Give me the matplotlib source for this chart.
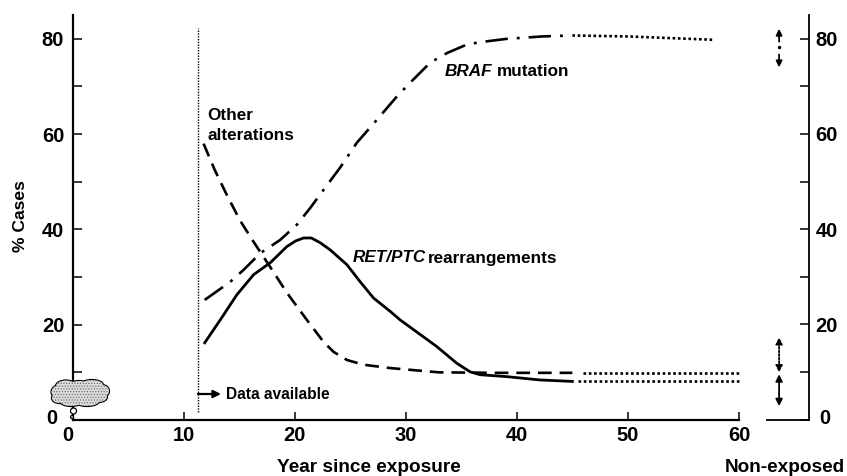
import matplotlib
matplotlib.use("Agg")
import matplotlib.pyplot as plt
from matplotlib.patches import Ellipse
from matplotlib.transforms import Affine2D, ScaledTranslation

plt.rcParams['font.family'] = ['Liberation Sans', 'DejaVu Sans']
plt.rcParams['font.weight'] = 'bold'
plt.rcParams['hatch.linewidth'] = 0.5

# values
other_x = [11.8, 12.8, 13.9, 15.1, 16.3, 17.8, 19.3, 21.1, 22.6, 23.5, 24.7, 26.2, 28.6, 33, 38, 45]
other_y = [58, 52.5, 47.2, 41.8, 37.4, 32.1, 26.7, 21, 16.4, 14.3, 12.6, 11.6, 10.9, 10, 9.9, 9.9]
ret_x = [11.9, 13.3, 14.8, 16.3, 17.8, 19.3, 20.1, 20.8, 21.5, 22.3, 23.2, 24.7, 25.9, 27.1, 28.6, 29.5,
         32.8, 34.6, 35.8, 36.7, 39.1, 42.1, 45]
ret_y = [16.2, 21, 26.3, 30.5, 33, 36.4, 37.6, 38.2, 38.2, 37.2, 35.7, 32.6, 29, 25.6, 22.8, 21,
         15.4, 11.9, 10.1, 9.5, 9.1, 8.4, 8.1]
braf_x = [11.9, 14.2, 15.4, 16.9, 18.7, 20.2, 21.4, 22.6, 24.1, 25.6, 27.4, 29.2, 30.4, 32.2,
          33.7, 35.5, 36.7, 39.1, 42.3, 44.8]
braf_y = [25.2, 29, 31.5, 35, 37.8, 41, 44.5, 48.3, 53, 58.2, 63, 67.9, 70.8, 75,
          77, 78.8, 79.3, 80, 80.5, 80.7]
other_ext_x = [46, 60]
other_ext_y = [9.9, 9.9]
ret_ext_x = [45.5, 60]
ret_ext_y = [8.2, 8.2]
braf_ext_x = [45, 50, 57.7]
braf_ext_y = [80.7, 80.5, 79.8]
data_start = 11.3
data_top = 82.3
x_ticks = [0, 10, 20, 30, 40, 50, 60]
y_major = [0, 20, 40, 60, 80]
y_minor = [10, 30, 50, 70]
# non-exposed ranges: (low, high)
braf_range = [(76.7, 74), (79.4, 82.1)]
other_range = (9.9, 17.3)
ret_range = (2.8, 9.5)

W, H = 847, 476
fig = plt.figure(figsize=(W / 100, H / 100), dpi=100)
px = Affine2D().scale(1, -1).translate(0, H)


def axes_at(left, right, top, bottom):
    return fig.add_axes([left / W, (H - bottom) / H, (right - left) / W, (bottom - top) / H])


ax = axes_at(72.5, 739, 15, 420)
ax.set_xlim(0, 60)
ax.set_ylim(0, 85)
ax.spines[['top', 'right']].set_visible(False)
ax.spines['left'].set_linewidth(1.6)
ax.spines['bottom'].set_linewidth(1.6)
ax.set_xticks(x_ticks)
ax.set_yticks(y_major)
ax.set_yticks(y_minor, minor=True)
ax.tick_params(axis='x', direction='in', length=5.5, width=1.1, labelsize=14.5, pad=4)
ax.tick_params(axis='y', which='both', direction='in', length=6.5, width=1.1, labelsize=14.5, pad=6)
ax.set_facecolor('none')

ax.plot(other_x, other_y, color='k', lw=1.9, ls=(0, (5.2, 3)))
ax.plot(ret_x, ret_y, color='k', lw=2.0)
ax.plot(braf_x, braf_y, color='k', lw=1.9, ls=(0, (8.5, 3.4, 1.1, 3.4)))
for ex, ey in [(other_ext_x, other_ext_y), (ret_ext_x, ret_ext_y), (braf_ext_x, braf_ext_y)]:
    ax.plot(ex, ey, color='k', lw=1.9, ls=(0, (1, 1)), clip_on=False)
ax.plot([data_start, data_start], [1.7, data_top], color='k', lw=1.0, ls=(0, (1, 1)))

# shifted zero labels
ax.get_xticklabels()[0].set_transform(ax.get_xticklabels()[0].get_transform()
                                      + ScaledTranslation(-4.5 / 100, 0, fig.dpi_scale_trans))
lab0 = ax.get_yticklabels()[0]
lab0.set_transform(lab0.get_transform() + ScaledTranslation(-7 / 100, 3 / 100, fig.dpi_scale_trans))

# right-hand axis for the non-exposed group
ax2 = axes_at(767, 808.7, 15, 419.5)
ax2.set_xlim(0, 1)
ax2.set_ylim(0, 85)
ax2.set_facecolor('none')
ax2.spines[['top', 'left']].set_visible(False)
ax2.spines['right'].set_linewidth(1.3)
ax2.spines['bottom'].set_linewidth(1.3)
ax2.set_xticks([])
ax2.yaxis.tick_right()
ax2.set_yticks(y_major)
ax2.set_yticks(y_minor, minor=True)
ax2.tick_params(axis='y', which='both', direction='in', length=6.5, width=1.1, labelsize=14.5, pad=5)
lab0 = ax2.get_yticklabels()[0]
lab0.set_transform(lab0.get_transform() + ScaledTranslation(4 / 100, 3 / 100, fig.dpi_scale_trans))

arrow_x = 0.29
for y0, y1 in braf_range:
    ax2.annotate('', xy=(arrow_x, y1), xytext=(arrow_x, y0),
                 arrowprops=dict(arrowstyle='-|>', color='k', lw=1.3, shrinkA=0, shrinkB=0,
                                 mutation_scale=9))
ax2.plot([arrow_x], [78.2], 'o', color='k', ms=1.5)
ax2.annotate('', xy=(arrow_x, other_range[1]), xytext=(arrow_x, other_range[0]),
             arrowprops=dict(arrowstyle='<|-|>', color='k', lw=1.3, ls=(0, (1, 1)),
                             shrinkA=0, shrinkB=0, mutation_scale=10))
ax2.annotate('', xy=(arrow_x, ret_range[1]), xytext=(arrow_x, ret_range[0]),
             arrowprops=dict(arrowstyle='<|-|>', color='k', lw=1.3, shrinkA=0, shrinkB=0,
                             mutation_scale=10))


# text, placed in picture pixels
def label(x, y, s, size=12.3, **kw):
    kw.setdefault('va', 'center')
    fig.text(x, y, s, transform=px, fontsize=size, fontweight='bold', **kw)


label(207, 115, 'Other')
label(207, 136, 'alterations')
label(445, 72, 'BRAF', style='italic')
label(497, 72, 'mutation')
label(353, 258, 'RET/PTC', style='italic')
label(428, 258, 'rearrangements')
label(226, 394.5, 'Data available', size=11.2)
label(277, 467, 'Year since exposure', size=13.7)
label(725, 467, 'Non-exposed', size=13.7)
label(20.5, 216, '% Cases', size=12.6, rotation=90, ha='center')

# data-available arrow
ax.annotate('', xy=(221, 394), xytext=(198, 394), xycoords=px, textcoords=px,
            arrowprops=dict(arrowstyle='-|>', color='k', lw=1.6, shrinkA=0, shrinkB=0, mutation_scale=11))

# cloud
lobes = [(59, 392, 15, 13), (66, 386, 20, 11), (79, 386, 20, 10), (92, 385, 22, 10), (102, 391, 14, 12),
         (99, 397, 16, 10), (87, 401, 24, 10), (71, 401, 22, 10), (59, 398, 14, 10), (80, 393, 42, 16)]
for lx, ly, lw_, lh in lobes:
    fig.add_artist(Ellipse((lx, ly), lw_, lh, transform=px, fc='k', ec='k', lw=1.6, zorder=5))
for lx, ly, lw_, lh in lobes:
    fig.add_artist(Ellipse((lx, ly), lw_, lh, transform=px, fc='#dcdcdc', ec='#606060', hatch='......',
                           lw=0, zorder=6))
for lx, ly, d in [(73.5, 411, 6), (72, 417, 3)]:
    fig.add_artist(Ellipse((lx, ly), d, d, transform=px, fc='white', ec='k', lw=0.9, zorder=6))

fig.savefig('out.png', dpi=100)
